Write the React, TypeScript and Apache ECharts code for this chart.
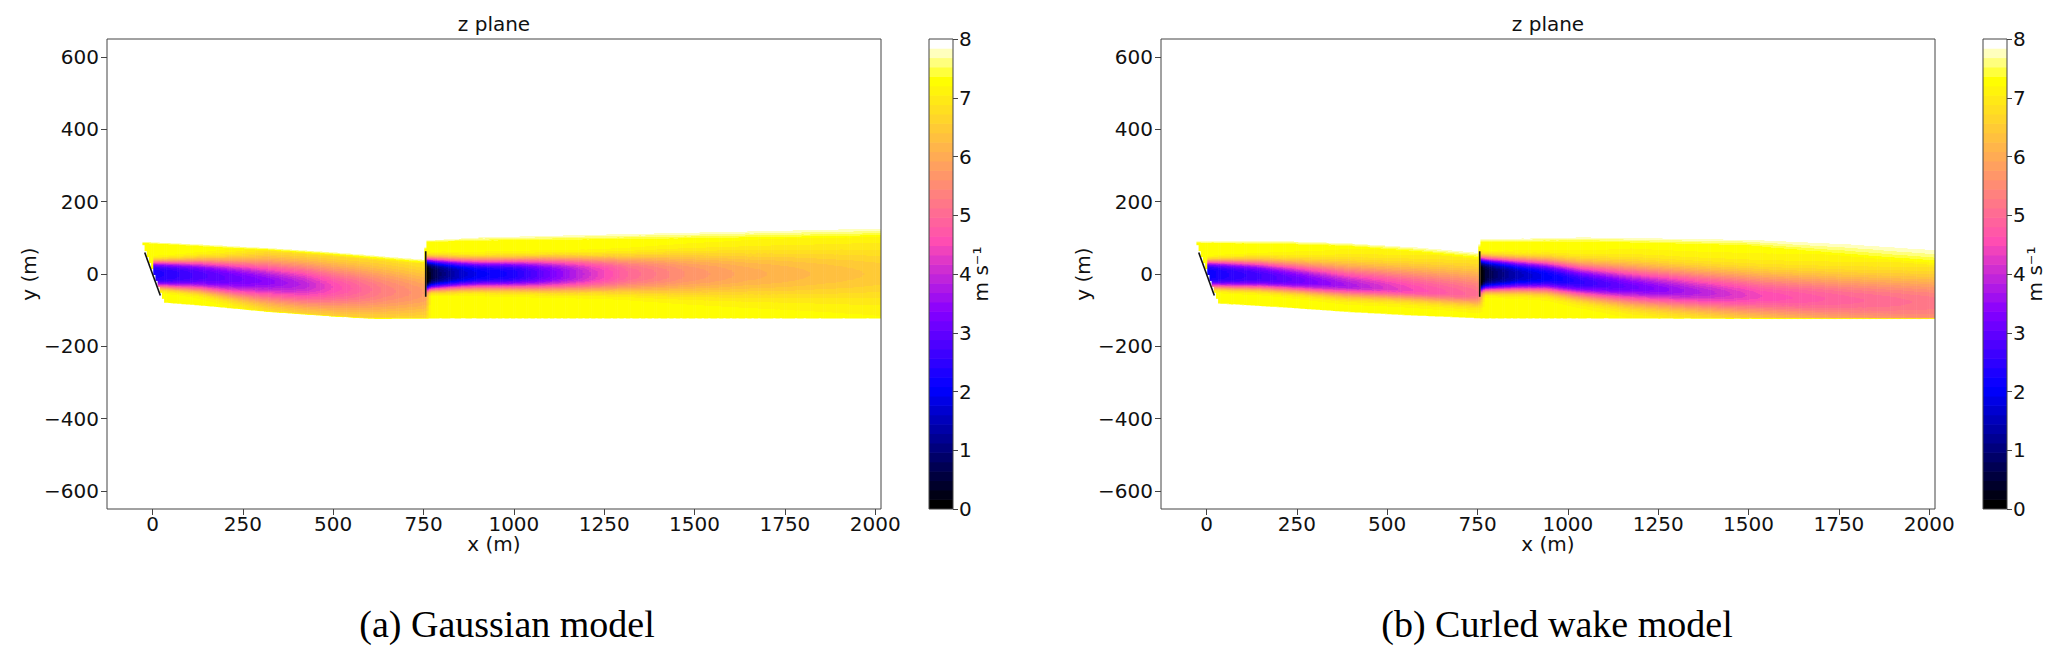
import React, { useEffect, useRef } from "react";
import * as echarts from "echarts";

// ---------------- axes / ticks ----------------
const xTicks = [0, 250, 500, 750, 1000, 1250, 1500, 1750, 2000];
const yTicks = [-600, -400, -200, 0, 200, 400, 600];
const xLimits = [-126, 2016];
const yLimits = [-650, 650];
const colorbarLimits = [0, 8];
const colorbarInterval = 1;
const levelCount = 50;

// ---------------- turbines ----------------
const turbineX = [0, 756];
const turbineY = [0, 0];
const turbineYawDeg = [20, 0];
const rotorDiameter = 126;
const wakeStartOffset = 4; // wake starts just behind the yawed rotor plane

// ---------------- speeds (m/s) ----------------
const freeStreamSpeed = 8;
const wakeEdgeSpeed = 7.3;
const bottomFringe = 4;

// ============ (a) Gaussian model ============
// wake envelope: outer (white) and inner (saturated yellow) top edges, bottom edge
const gaussEnvX = [-28, 130, 315, 500, 680, 753, 756, 905, 1200, 1474, 1750, 2016];
const gaussTopOut = [91, 84, 74, 62, 48, 42, 94, 104, 112, 119, 126, 132];
const gaussTopIn = [85, 76, 64, 50, 34, 28, 88, 91, 94, 96, 98, 100];
const gaussBotX = [-28, 38, 130, 315, 500, 600, 2016];
const gaussBot = [-80, -82, -89, -106, -119, -125, -125];
// wake of turbine 1
const gaussW1X = [0, 60, 130, 220, 315, 420, 500, 637, 740, 756, 770];
const gaussW1Center = [0, -2, -4, -12, -20, -30, -37, -46, -52, -53, -53];
const gaussW1Deficit = [5.0, 4.8, 4.5, 4.2, 3.9, 3.4, 2.8, 2.0, 1.6, 1.5, 0];
const gaussW1Sigma = [30, 31, 33, 37, 41, 45, 48, 52, 50, 50, 50];
const gaussW1Shape = [4, 3.5, 3, 2.5, 2, 2, 2, 2, 2, 2, 2];
// wake of turbine 2
const gaussW2X = [756, 800, 850, 905, 1000, 1089, 1228, 1320, 1474, 1643, 1827, 2016];
const gaussW2Center = [0, 0, 0, 0, 0, 0, 0, 0, 0, 0, 0, 0];
const gaussW2Deficit = [7.0, 6.3, 5.7, 5.3, 5.0, 4.2, 3.0, 2.3, 1.7, 1.3, 1.05, 0.85];
const gaussW2Sigma = [36, 34, 32, 31, 32, 34, 36, 38, 42, 46, 51, 56];
const gaussW2Shape = [4, 3.5, 3.2, 3, 3, 3, 3, 2.8, 2.5, 2.3, 2.2, 2];

// ============ (b) Curled wake model ============
const curlEnvX = [-28, 203, 388, 572, 729, 753, 756, 1034, 1495, 1772, 2016];
const curlTopOut = [92, 94, 88, 78, 65, 62, 98, 105, 100, 92, 78];
const curlTopIn = [85, 82, 76, 60, 42, 38, 88, 88, 77, 48, 20];
const curlBotX = [-28, 37, 203, 388, 572, 720, 760, 2016];
const curlBot = [-80, -84, -94, -107, -117, -123, -125, -125];
// wake of turbine 1
const curlW1X = [0, 60, 150, 250, 388, 500, 600, 700, 753, 770];
const curlW1Center = [0, -3, -8, -18, -32, -40, -47, -54, -57, -58];
const curlW1Deficit = [5.2, 4.9, 4.6, 4.2, 3.6, 3.1, 2.7, 2.4, 2.2, 0];
const curlW1SigmaUp = [30, 32, 34, 36, 38, 42, 46, 50, 52, 52];
const curlW1SigmaDown = [30, 29, 26, 23, 20, 19, 19, 20, 21, 21];
const curlW1Shape = [4, 3.5, 3, 2.5, 2, 2, 2, 2, 2, 2];
// wake of turbine 2
const curlW2X = [756, 800, 860, 942, 1034, 1172, 1357, 1541, 1772, 2016];
const curlW2Center = [0, -1, -3, -8, -22, -36, -50, -62, -72, -80];
const curlW2Deficit = [7.0, 6.4, 5.8, 5.3, 4.8, 4.2, 3.5, 2.8, 2.4, 2.1];
const curlW2SigmaUp = [38, 36, 34, 34, 36, 39, 42, 46, 50, 55];
const curlW2SigmaDown = [38, 36, 33, 30, 30, 32, 35, 40, 48, 60];
const curlW2Shape = [4, 3.5, 3, 2.6, 2.3, 2, 2, 2, 2, 2];

const panelTitles = ["z plane", "z plane"];
const panelCaptions = ["(a) Gaussian model", "(b) Curled wake model"];

// ---------------- helpers ----------------
type Wake = { x: number[]; yc: number[]; def: number[]; sUp: number[]; sDn: number[]; p: number[] };
type Panel = {
  envX: number[]; topOut: number[]; topIn: number[]; botX: number[]; bot: number[]; wakes: Wake[];
};

const panels: Panel[] = [
  {
    envX: gaussEnvX, topOut: gaussTopOut, topIn: gaussTopIn, botX: gaussBotX, bot: gaussBot,
    wakes: [
      { x: gaussW1X, yc: gaussW1Center, def: gaussW1Deficit, sUp: gaussW1Sigma, sDn: gaussW1Sigma, p: gaussW1Shape },
      { x: gaussW2X, yc: gaussW2Center, def: gaussW2Deficit, sUp: gaussW2Sigma, sDn: gaussW2Sigma, p: gaussW2Shape },
    ],
  },
  {
    envX: curlEnvX, topOut: curlTopOut, topIn: curlTopIn, botX: curlBotX, bot: curlBot,
    wakes: [
      { x: curlW1X, yc: curlW1Center, def: curlW1Deficit, sUp: curlW1SigmaUp, sDn: curlW1SigmaDown, p: curlW1Shape },
      { x: curlW2X, yc: curlW2Center, def: curlW2Deficit, sUp: curlW2SigmaUp, sDn: curlW2SigmaDown, p: curlW2Shape },
    ],
  },
];

function interp(xs: number[], ys: number[], x: number): number {
  const n = xs.length;
  if (x <= xs[0]) return ys[0];
  if (x >= xs[n - 1]) return ys[n - 1];
  for (let i = 1; i < n; i++) {
    if (x <= xs[i]) {
      const t = (x - xs[i - 1]) / (xs[i] - xs[i - 1]);
      return ys[i - 1] + t * (ys[i] - ys[i - 1]);
    }
  }
  return ys[n - 1];
}

function gnuplot2(t: number): string {
  const c = (v: number) => Math.max(0, Math.min(1, v));
  const r = c(t / 0.32 - 0.78125);
  const g = c(2 * t - 0.84);
  const b = c(t < 0.25 ? 4 * t : t < 0.42 ? 1 : t < 0.92 ? -2 * t + 1.84 : t / 0.08 - 11.5);
  return `rgb(${Math.round(r * 255)},${Math.round(g * 255)},${Math.round(b * 255)})`;
}

const levelStep = (colorbarLimits[1] - colorbarLimits[0]) / levelCount;
const bandColors = Array.from({ length: levelCount }, (_, i) => gnuplot2(i / (levelCount - 1)));
function bandOf(u: number): number {
  return Math.max(0, Math.min(levelCount - 1, Math.floor((u - colorbarLimits[0]) / levelStep)));
}

function coreDeficit(w: Wake, x: number, y: number): number {
  if (x < w.x[0] || x > w.x[w.x.length - 1]) return 0;
  const yc = interp(w.x, w.yc, x);
  const A = interp(w.x, w.def, x);
  const dy = y - yc;
  const s = dy >= 0 ? interp(w.x, w.sUp, x) : interp(w.x, w.sDn, x);
  const p = interp(w.x, w.p, x);
  return A * Math.exp(-0.5 * Math.pow(Math.abs(dy) / s, p));
}

function speedAt(panel: Panel, x: number, y: number): number {
  const topOut = interp(panel.envX, panel.topOut, x);
  const topIn = interp(panel.envX, panel.topIn, x);
  const bot = interp(panel.botX, panel.bot, x);
  let fr = 1;
  if (y > topIn) fr = Math.max(0, (topOut - y) / Math.max(1, topOut - topIn));
  if (y < bot + bottomFringe) fr = Math.min(fr, Math.max(0, (y - bot) / bottomFringe));
  let d = freeStreamSpeed - wakeEdgeSpeed;
  for (const w of panel.wakes) d += coreDeficit(w, x, y);
  return Math.max(0, freeStreamSpeed - fr * d);
}

const yaw1 = (turbineYawDeg[0] * Math.PI) / 180;
function rotorCut(x: number): number {
  // lowest y downstream of the yawed rotor plane of turbine 1
  return turbineY[0] + (turbineX[0] + wakeStartOffset - x) / Math.tan(yaw1);
}

const columnStep = 6;
const fieldStartX = -28;
const fieldColumns: number[][] = [];
for (let x = fieldStartX; x < xLimits[1]; x += columnStep) fieldColumns.push([x, Math.min(x + columnStep, xLimits[1])]);

const levelBands = Array.from({ length: levelCount }, (_, i) => [
  i,
  colorbarLimits[0] + i * levelStep,
  colorbarLimits[0] + (i + 1) * levelStep,
]);

const renderField = (panel: Panel) => (_params: any, api: any) => {
  const x0 = api.value(0) as number;
  const x1 = api.value(1) as number;
  const xc = (x0 + x1) / 2;
  const top = interp(panel.envX, panel.topOut, xc);
  const bot = Math.max(interp(panel.botX, panel.bot, xc), rotorCut(xc));
  if (top - bot < 0.5) return null;
  const H = top - bot;
  const stops: { offset: number; color: string }[] = [];
  const dy = 0.5;
  let prev = -1;
  for (let y = top; y >= bot; y -= dy) {
    const band = bandOf(speedAt(panel, xc, y));
    if (band !== prev) {
      const off = prev < 0 ? 0 : Math.max(0, Math.min(1, (top - (y + dy / 2)) / H));
      if (prev >= 0) stops.push({ offset: off, color: bandColors[prev] });
      stops.push({ offset: off, color: bandColors[band] });
      prev = band;
    }
  }
  stops.push({ offset: 1, color: bandColors[prev] });
  const p0 = api.coord([x0, top]);
  const p1 = api.coord([x1, bot]);
  return {
    type: "rect",
    shape: { x: p0[0], y: p0[1], width: p1[0] - p0[0] + 0.6, height: p1[1] - p0[1] },
    style: { fill: new echarts.graphic.LinearGradient(0, 0, 0, 1, stops), stroke: null },
  };
};

const renderColorbar = (_params: any, api: any) => {
  const i = api.value(0) as number;
  const lo = api.value(1) as number;
  const hi = api.value(2) as number;
  const p0 = api.coord([0, hi]);
  const p1 = api.coord([1, lo]);
  return {
    type: "rect",
    shape: { x: p0[0], y: p0[1] - 0.3, width: p1[0] - p0[0], height: p1[1] - p0[1] + 0.6 },
    style: { fill: bandColors[i], stroke: null },
  };
};

// ---------------- layout ----------------
const fontFamily = "'DejaVu Sans', sans-serif";
const tickFont = 20;
const plotLefts = [107, 1161];
const plotTop = 39;
const plotWidth = 774;
const plotHeight = 470;
const cbarLefts = [929, 1983];
const cbarWidth = 24;
const frameColor = "#444";
const textColor = "#111";

const fmtTick = (v: number) => (v < 0 ? "\u2212" + Math.abs(v) : String(v));

function buildOption(): any {
  const grid: any[] = [];
  const xAxis: any[] = [];
  const yAxis: any[] = [];
  const series: any[] = [];
  const graphic: any[] = [];

  plotLefts.forEach((left) => {
    grid.push({ left, top: plotTop, width: plotWidth, height: plotHeight, show: true, borderColor: frameColor, borderWidth: 1, backgroundColor: "transparent", z: 5 });
  });
  cbarLefts.forEach((left) => {
    grid.push({ left, top: plotTop, width: cbarWidth, height: plotHeight, show: true, borderColor: frameColor, borderWidth: 1, backgroundColor: "transparent", z: 5 });
  });

  plotLefts.forEach((_l, k) => {
    xAxis.push({
      type: "value", gridIndex: k, min: xLimits[0], max: xLimits[1], position: "bottom",
      name: "x (m)", nameLocation: "middle", nameGap: 25, nameMoveOverlap: false,
      nameTextStyle: { fontSize: tickFont, color: textColor, fontFamily },
      axisLine: { show: false, onZero: false }, splitLine: { show: false },
      axisTick: { show: true, length: 6, customValues: xTicks, lineStyle: { color: frameColor } },
      axisLabel: { customValues: xTicks, fontSize: tickFont, color: textColor, margin: 5, fontFamily, formatter: fmtTick },
    });
    yAxis.push({
      type: "value", gridIndex: k, min: yLimits[0], max: yLimits[1], position: "left",
      name: "y (m)", nameLocation: "middle", nameGap: 68, nameRotate: 90, nameMoveOverlap: false,
      nameTextStyle: { fontSize: tickFont, color: textColor, fontFamily },
      axisLine: { show: false, onZero: false }, splitLine: { show: false },
      axisTick: { show: true, length: 6, customValues: yTicks, lineStyle: { color: frameColor } },
      axisLabel: { customValues: yTicks, fontSize: tickFont, color: textColor, margin: 8, fontFamily, formatter: fmtTick },
    });
  });
  cbarLefts.forEach((_l, j) => {
    const gi = plotLefts.length + j;
    xAxis.push({ type: "value", gridIndex: gi, min: 0, max: 1, show: false, axisLine: { onZero: false } });
    yAxis.push({
      type: "value", gridIndex: gi, min: colorbarLimits[0], max: colorbarLimits[1], interval: colorbarInterval,
      position: "right",
      name: "m s\u207B\u00B9", nameLocation: "middle", nameGap: 18, nameRotate: 90, nameMoveOverlap: false,
      nameTextStyle: { fontSize: tickFont, color: textColor, fontFamily },
      axisLine: { show: false, onZero: false }, splitLine: { show: false },
      axisTick: { show: true, length: 5, lineStyle: { color: frameColor } },
      axisLabel: { fontSize: tickFont, color: textColor, margin: 6, fontFamily },
    });
  });

  panels.forEach((panel, k) => {
    series.push({
      type: "custom", xAxisIndex: k, yAxisIndex: k, data: fieldColumns,
      renderItem: renderField(panel), clip: true, silent: true, z: 1,
    });
    turbineX.forEach((tx, i) => {
      const r = rotorDiameter / 2;
      const a = (turbineYawDeg[i] * Math.PI) / 180;
      series.push({
        type: "line", xAxisIndex: k, yAxisIndex: k, silent: true, symbol: "none", z: 3,
        lineStyle: { color: "#111", width: 1.6 },
        data: [
          [tx - r * Math.sin(a), turbineY[i] + r * Math.cos(a)],
          [tx + r * Math.sin(a), turbineY[i] - r * Math.cos(a)],
        ],
      });
    });
    const cbIdx = plotLefts.length + k;
    series.push({
      type: "custom", xAxisIndex: cbIdx, yAxisIndex: cbIdx, data: levelBands,
      renderItem: renderColorbar, clip: true, silent: true, z: 1,
    });
  });

  plotLefts.forEach((left, k) => {
    graphic.push({
      type: "text", x: left + plotWidth / 2, y: 24, silent: true,
      style: { text: panelTitles[k], font: `${tickFont}px ${fontFamily}`, fill: textColor, textAlign: "center", textVerticalAlign: "middle", align: "center", verticalAlign: "middle" },
    });
  });
  const captionCenters = [507, 1557];
  panelCaptions.forEach((cap, k) => {
    graphic.push({
      type: "text", x: captionCenters[k], y: 624, silent: true,
      style: { text: cap, font: `38px 'Liberation Serif', 'Times New Roman', serif`, fill: "#000", textAlign: "center", textVerticalAlign: "middle", align: "center", verticalAlign: "middle" },
    });
  });

  return {
    animation: false,
    backgroundColor: "#ffffff",
    textStyle: { fontFamily },
    grid, xAxis, yAxis, series, graphic,
  };
}

export default function App() {
  const ref = useRef<HTMLDivElement>(null);
  useEffect(() => {
    if (!ref.current) return;
    const chart = echarts.init(ref.current, undefined, { renderer: "svg" });
    chart.setOption(buildOption());
    return () => chart.dispose();
  }, []);
  return (
    <div
      ref={ref}
      style={{ position: "absolute", left: 0, top: 0, width: 2067, height: 661, background: "#fff" }}
    />
  );
}
